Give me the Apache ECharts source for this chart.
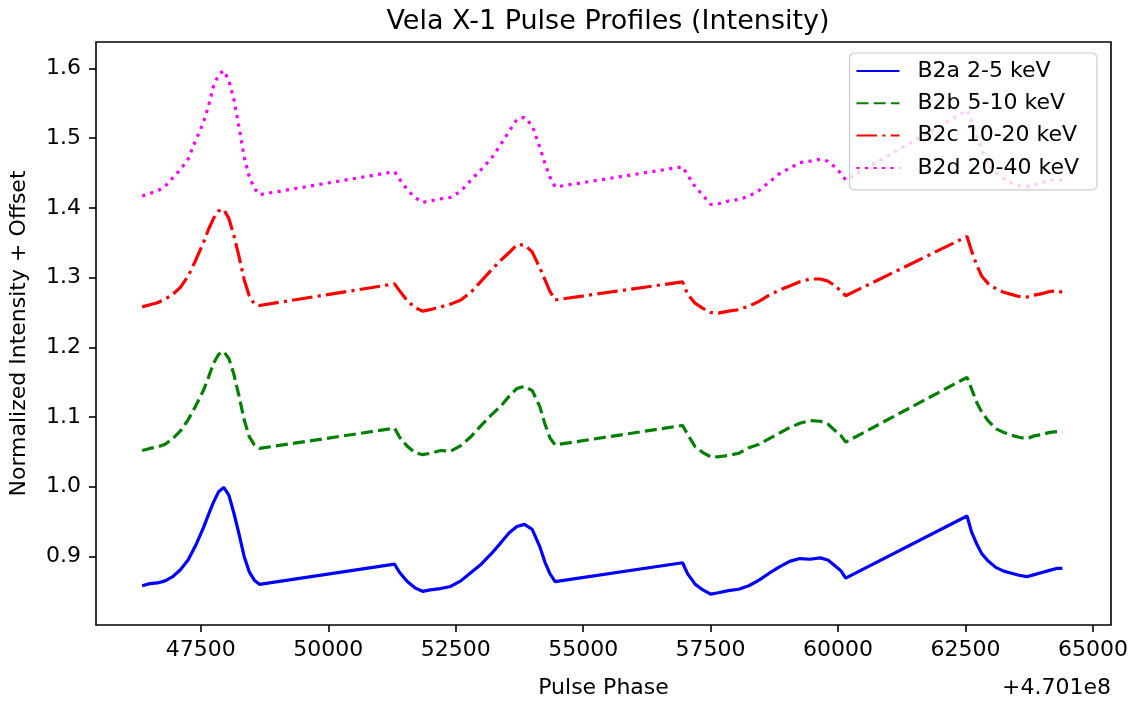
<!DOCTYPE html>
<html>
<head>
<meta charset="utf-8">
<script src="https://cdn.jsdelivr.net/npm/echarts@6/dist/echarts.min.js"></script>
<style>
html,body{margin:0;padding:0;background:#fff;}
#chart{width:1131px;height:704px;}
</style>
</head>
<body>
<div id="chart"></div>
<script>
// Pulse phase (offset from 4.701e8)
const phase = [
  46350, 46500, 46650, 46800, 46950, 47100, 47250, 47400, 47550, 47650, 47750, 47850, 47950, 48050, 48150, 48250, 48350, 48450, 48550, 48650,
  51300, 51400, 51550, 51700, 51850, 52000, 52200, 52400, 52600, 52800, 53000, 53200, 53400, 53550, 53700, 53850, 54000, 54150, 54250, 54350, 54450,
  56950, 57050, 57200, 57350, 57500, 57650, 57850, 58050, 58250, 58450, 58650, 58850, 59050, 59250, 59450, 59650, 59800, 59950, 60050, 60150,
  62530, 62620, 62720, 62820, 62950, 63100, 63250, 63400, 63550, 63700, 63850, 64000, 64150, 64300, 64400
];
const b2a = [
  0.858, 0.861, 0.862, 0.865, 0.871, 0.881, 0.895, 0.916, 0.941, 0.960, 0.978, 0.993, 0.999, 0.988, 0.962, 0.932, 0.900, 0.878, 0.866, 0.860,
  0.889, 0.877, 0.864, 0.855, 0.850, 0.852, 0.854, 0.857, 0.865, 0.877, 0.889, 0.904, 0.921, 0.934, 0.943, 0.946, 0.939, 0.914, 0.892, 0.875, 0.864,
  0.891, 0.875, 0.860, 0.852, 0.846, 0.848, 0.851, 0.853, 0.858, 0.866, 0.876, 0.885, 0.893, 0.897, 0.896, 0.898, 0.895, 0.886, 0.880, 0.869,
  0.958, 0.935, 0.918, 0.904, 0.893, 0.884, 0.879, 0.876, 0.873, 0.871, 0.874, 0.877, 0.880, 0.883, 0.883
];
const b2b = [
  1.052, 1.055, 1.057, 1.061, 1.069, 1.080, 1.096, 1.116, 1.138, 1.157, 1.177, 1.190, 1.194, 1.184, 1.161, 1.130, 1.096, 1.072, 1.060, 1.055,
  1.084, 1.071, 1.058, 1.049, 1.046, 1.048, 1.052, 1.051, 1.059, 1.072, 1.088, 1.103, 1.117, 1.130, 1.141, 1.144, 1.138, 1.115, 1.090, 1.070, 1.060,
  1.088, 1.075, 1.057, 1.049, 1.043, 1.043, 1.045, 1.048, 1.056, 1.061, 1.069, 1.077, 1.085, 1.091, 1.095, 1.094, 1.090, 1.080, 1.074, 1.064,
  1.157, 1.140, 1.121, 1.107, 1.094, 1.083, 1.078, 1.074, 1.071, 1.069, 1.073, 1.075, 1.078, 1.079, 1.078
];
const b2c = [
  1.258, 1.261, 1.264, 1.269, 1.276, 1.286, 1.302, 1.325, 1.350, 1.369, 1.385, 1.396, 1.398, 1.385, 1.360, 1.330, 1.297, 1.274, 1.262, 1.260,
  1.291, 1.281, 1.267, 1.257, 1.252, 1.254, 1.258, 1.262, 1.268, 1.279, 1.295, 1.311, 1.326, 1.336, 1.347, 1.347, 1.337, 1.314, 1.297, 1.280, 1.268,
  1.294, 1.276, 1.263, 1.256, 1.250, 1.249, 1.252, 1.254, 1.259, 1.266, 1.275, 1.282, 1.288, 1.294, 1.298, 1.298, 1.295, 1.288, 1.281, 1.274,
  1.359, 1.338, 1.318, 1.302, 1.291, 1.284, 1.279, 1.276, 1.273, 1.272, 1.275, 1.277, 1.280, 1.281, 1.279
];
const b2d = [
  1.417, 1.421, 1.424, 1.431, 1.443, 1.455, 1.470, 1.497, 1.522, 1.546, 1.575, 1.591, 1.597, 1.583, 1.555, 1.516, 1.473, 1.445, 1.428, 1.419,
  1.452, 1.441, 1.426, 1.415, 1.408, 1.410, 1.413, 1.415, 1.424, 1.440, 1.455, 1.471, 1.493, 1.510, 1.527, 1.530, 1.518, 1.487, 1.464, 1.444, 1.430,
  1.459, 1.447, 1.430, 1.418, 1.405, 1.406, 1.410, 1.412, 1.417, 1.425, 1.437, 1.449, 1.457, 1.465, 1.467, 1.470, 1.467, 1.458, 1.450, 1.440,
  1.540, 1.524, 1.503, 1.483, 1.463, 1.450, 1.442, 1.436, 1.432, 1.431, 1.433, 1.436, 1.440, 1.441, 1.440
];
const seriesNames = ['B2a 2-5 keV', 'B2b 5-10 keV', 'B2c 10-20 keV', 'B2d 20-40 keV'];
const xTicks = [47500, 50000, 52500, 55000, 57500, 60000, 62500, 65000];
const yTicks = [0.9, 1.0, 1.1, 1.2, 1.3, 1.4, 1.5, 1.6];

const FONT = 'DejaVu Sans';
const FS = 22;
const pair = arr => phase.map((x, i) => [x, arr[i]]);
const styles = [
  {color: '#0000ff', type: 'solid'},
  {color: '#008000', type: [12, 5.2]},
  {color: '#ff0000', type: [20.6, 5.2, 3.2, 5.2]},
  {color: '#ff00ff', type: [3.2, 5.3]}
];
const values = [b2a, b2b, b2c, b2d];

const chart = echarts.init(document.getElementById('chart'), null, {renderer: 'canvas'});
chart.setOption({
  animation: false,
  backgroundColor: '#fff',
  title: {
    text: 'Vela X-1 Pulse Profiles (Intensity)',
    left: 603, top: 3, textAlign: 'center',
    textStyle: {fontFamily: FONT, fontSize: 27, fontWeight: 'normal', color: '#000'}
  },
  grid: {left: 95, top: 42, width: 1016, height: 595, show: true, borderColor: '#000', borderWidth: 1.6, backgroundColor: 'transparent'},
  legend: {
    orient: 'vertical', right: 34, top: 53,
    padding: [7, 18, 11, 6], itemGap: 10.3, itemWidth: 43, itemHeight: 22,
    backgroundColor: 'rgba(255,255,255,0.8)', borderColor: '#cccccc', borderWidth: 1.2, borderRadius: 5,
    itemStyle: {opacity: 0, borderWidth: 0},
    textStyle: {fontFamily: FONT, fontSize: FS, color: '#000', padding: [0, 0, 0, 13]},
    data: seriesNames
  },
  xAxis: {
    type: 'value', min: 45444, max: 65354,
    name: 'Pulse Phase', nameLocation: 'middle', nameGap: 52,
    nameTextStyle: {fontFamily: FONT, fontSize: FS, color: '#000'},
    axisLine: {show: false},
    splitLine: {show: false},
    axisTick: {show: true, length: 7, customValues: xTicks, lineStyle: {color: '#000', width: 1.6}},
    axisLabel: {customValues: xTicks, margin: 14, fontFamily: FONT, fontSize: FS, color: '#000', formatter: v => String(v)}
  },
  yAxis: {
    type: 'value', min: 0.8017, max: 1.638,
    name: 'Normalized Intensity + Offset', nameLocation: 'middle', nameGap: 66, nameRotate: 90,
    nameTextStyle: {fontFamily: FONT, fontSize: FS, color: '#000'},
    axisLine: {show: false},
    splitLine: {show: false},
    axisTick: {show: true, length: 7, customValues: yTicks, lineStyle: {color: '#000', width: 1.6}},
    axisLabel: {customValues: yTicks, margin: 15, fontFamily: FONT, fontSize: FS, color: '#000', formatter: v => v.toFixed(1)}
  },
  graphic: [{
    type: 'text', right: 20, top: 677,
    style: {text: '+4.701e8', fontFamily: FONT, fontSize: FS, fill: '#000'}
  }],
  series: values.map((arr, i) => ({
    name: seriesNames[i], type: 'line', data: pair(arr),
    showSymbol: false, symbol: 'none', smooth: false,
    lineStyle: {color: styles[i].color, width: 3.2, type: styles[i].type},
    itemStyle: {color: styles[i].color},
    emphasis: {disabled: true}
  }))
});
</script>
</body>
</html>
